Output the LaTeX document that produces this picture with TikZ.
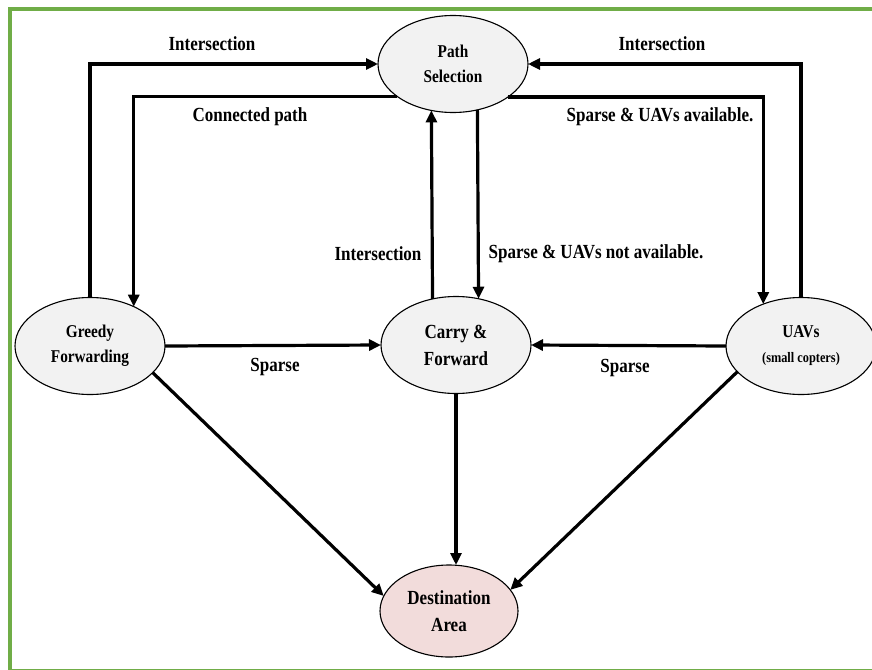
\documentclass[tikz,border=0pt]{standalone}
\usepackage{fontspec}
\setmainfont{Liberation Serif}[FakeStretch=0.85]
\usetikzlibrary{arrows.meta,shapes.geometric}
\definecolor{framegreen}{HTML}{70AD47}
\definecolor{nodefill}{HTML}{F2F2F2}
\definecolor{destfill}{HTML}{F2DCDB}
\tikzset{
  state/.style={ellipse, draw=black, line width=1.1pt, fill=nodefill,
    minimum width=150pt, minimum height=97pt, inner sep=0pt, outer sep=0pt,
    align=center, font=\bfseries\fontsize{18}{25}\selectfont},
  flow/.style={line width=3.2pt, -{Triangle[length=12pt,width=11pt]}},
  lab/.style={font=\bfseries\fontsize{20}{24}\selectfont, inner sep=0pt},
}
\begin{document}
\begin{tikzpicture}[x=1pt, y=-1pt]
  \useasboundingbox (0,0) rectangle (872,669);
  \clip (0,0) rectangle (872,669);
  \fill[white] (0,0) rectangle (872,669);
  % page frame
  \draw[framegreen, line width=4pt] (9.5,9.5) rectangle (885,670.5);

  % states
  \node[state] (PS) at (453,64) {Path\\Selection};
  \node[state] (GF) at (90,346) {Greedy\\Forwarding};
  \node[state, font=\bfseries\fontsize{20}{27}\selectfont] (CF) at (456,345) {Carry \&\\Forward};
  \node[state] (UAV) at (801,346) {UAVs\\{\fontsize{14.5}{16}\selectfont (small copters)}};
  \node[state, fill=destfill, minimum width=138pt, minimum height=92pt,
        font=\bfseries\fontsize{20}{27}\selectfont] (DA) at (449,611) {Destination\\Area};

  % transitions
  \draw[flow] (GF.north) |- (PS.west);
  \draw[flow] (PS.210.8) -| (GF.42.4);
  \draw[flow] (UAV.north) |- (PS.east);
  \draw[flow] (PS.329.2) -| (UAV.132.8);
  \draw[flow] (CF.117.8) -- (PS.245.9);
  \draw[flow] (PS.298.4) -- (CF.64.4);
  \draw[flow] (GF.east) -- (CF.west);
  \draw[flow] (UAV.west) -- (CF.east);
  \draw[flow] (GF.-23.5) -- (DA.167.7);
  \draw[flow] (CF.south) -- (CF.south |- DA.north);
  \draw[flow] (UAV.202.9) -- (DA.19);

  % transition labels
  \node[lab] (l1) at (212,44) {Intersection};
  \node[lab] (l2) at (662,44) {Intersection};
  \node[lab] (l3) at (250,117) {Connected path};
  \node[lab] (l4) at (660,117) {Sparse \& UAVs available.};
  \node[lab] (l5) at (378,254) {Intersection};
  \node[lab] (l6) at (596,254) {Sparse \& UAVs not available.};
  \node[lab] (l7) at (275,367) {Sparse};
  \node[lab] (l8) at (625,368) {Sparse};
\end{tikzpicture}
\end{document}
